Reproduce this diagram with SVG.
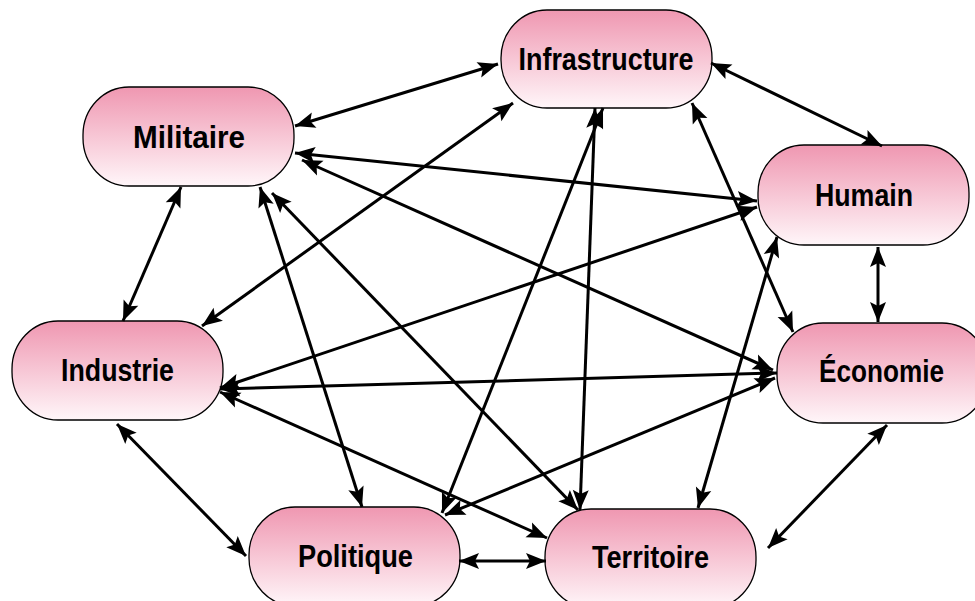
<svg xmlns="http://www.w3.org/2000/svg" width="975" height="601" viewBox="0 0 975 601">
<defs>
<linearGradient id="g" x1="0" y1="0" x2="0" y2="1">
<stop offset="0" stop-color="#ef97b1"/>
<stop offset="1" stop-color="#fff6f9"/>
</linearGradient>
<marker id="a" markerUnits="userSpaceOnUse" markerWidth="22" markerHeight="16" refX="20" refY="8" orient="auto-start-reverse" overflow="visible">
<path d="M0,0 L20,8 L0,16 L4,8 z" fill="#000"/>
</marker>
<style>
.n rect{fill:url(#g);stroke:#000;stroke-width:1.3}
.n text{font-family:"Liberation Sans Narrow","Liberation Sans",Arial,sans-serif;font-weight:bold;font-size:31px;fill:#000;text-anchor:middle}
#edges line{stroke:#000;stroke-width:3;marker-start:url(#a);marker-end:url(#a)}
</style>
</defs>
<rect width="975" height="601" fill="#fff"/>
<g id="nodes">
<g id="infrastructure" class="n"><rect x="501" y="10" width="211" height="98" rx="46" ry="48"/><text x="606" y="70" textLength="175" lengthAdjust="spacingAndGlyphs">Infrastructure</text></g>
<g id="militaire" class="n"><rect x="83" y="87" width="211" height="99" rx="46" ry="48"/><text x="189" y="148" textLength="112" lengthAdjust="spacingAndGlyphs">Militaire</text></g>
<g id="humain" class="n"><rect x="758" y="145" width="211" height="100" rx="46" ry="48"/><text x="864" y="206" textLength="98" lengthAdjust="spacingAndGlyphs">Humain</text></g>
<g id="industrie" class="n"><rect x="12" y="321" width="211" height="99" rx="46" ry="48"/><text x="117.5" y="381" textLength="113" lengthAdjust="spacingAndGlyphs">Industrie</text></g>
<g id="economie" class="n"><rect x="777" y="323" width="211" height="100" rx="46" ry="48"/><text x="881.5" y="382" textLength="125" lengthAdjust="spacingAndGlyphs">Économie</text></g>
<g id="politique" class="n"><rect x="249" y="507" width="211" height="99" rx="46" ry="48"/><text x="355.5" y="567" textLength="115" lengthAdjust="spacingAndGlyphs">Politique</text></g>
<g id="territoire" class="n"><rect x="545" y="509" width="211" height="99" rx="46" ry="48"/><text x="650.5" y="568" textLength="117" lengthAdjust="spacingAndGlyphs">Territoire</text></g>
</g>
<g id="edges">
<line x1="295" y1="126" x2="498" y2="64"/>
<line x1="711" y1="63" x2="882" y2="146"/>
<line x1="181" y1="187" x2="123" y2="321"/>
<line x1="878" y1="247" x2="878" y2="322"/>
<line x1="117" y1="424" x2="246" y2="556"/>
<line x1="459" y1="561" x2="546" y2="561"/>
<line x1="887" y1="425" x2="768" y2="548"/>
<line x1="295" y1="153" x2="757" y2="201"/>
<line x1="302" y1="160" x2="773" y2="370"/>
<line x1="260" y1="187" x2="362" y2="507"/>
<line x1="272" y1="193" x2="578" y2="510"/>
<line x1="513" y1="103" x2="202" y2="326"/>
<line x1="603" y1="108" x2="442" y2="513"/>
<line x1="595" y1="108" x2="580" y2="510"/>
<line x1="692" y1="103" x2="793" y2="332"/>
<line x1="757" y1="207" x2="220" y2="388"/>
<line x1="777" y1="237" x2="698" y2="508"/>
<line x1="220" y1="389" x2="777" y2="373"/>
<line x1="220" y1="392" x2="547" y2="538"/>
<line x1="445" y1="515" x2="775" y2="378"/>
</g>
</svg>
